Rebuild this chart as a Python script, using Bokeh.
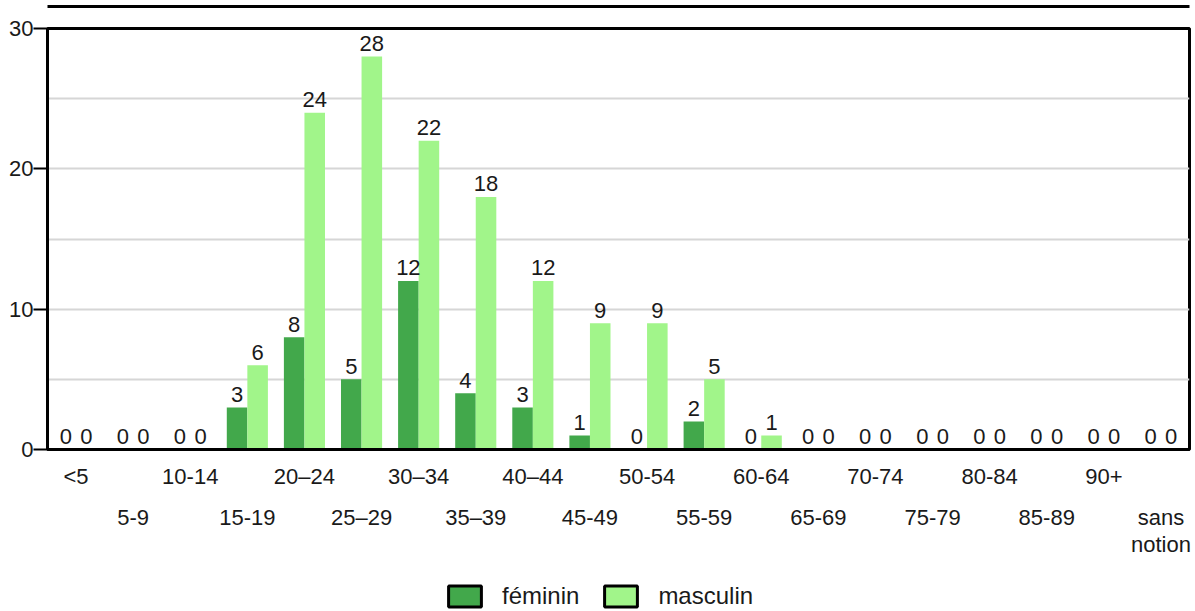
from bokeh.plotting import figure
from bokeh.layouts import column
from bokeh.models import (ColumnDataSource, FactorRange, Range1d, CategoricalAxis,
                          FixedTicker, Legend, LegendItem)
from bokeh.transform import dodge
from bokeh.core.properties import value
from bokeh.embed import file_html
from bokeh.resources import INLINE

categories = ["<5", "5-9", "10-14", "15-19", "20–24", "25–29", "30–34", "35–39", "40–44",
              "45-49", "50-54", "55-59", "60-64", "65-69", "70-74", "75-79", "80-84",
              "85-89", "90+", "sans notion"]
feminin = [0, 0, 0, 3, 8, 5, 12, 4, 3, 1, 0, 2, 0, 0, 0, 0, 0, 0, 0, 0]
masculin = [0, 0, 0, 6, 24, 28, 22, 18, 12, 9, 9, 5, 1, 0, 0, 0, 0, 0, 0, 0]
y_ticks = [0, 10, 20, 30]
grid_ticks = [5, 10, 15, 20, 25]
series_names = ["féminin", "masculin"]

FONT = "Liberation Sans"
TXT = "#1a1a1a"
FEM = "#42a84b"
MAS = "#a1f58a"

src = ColumnDataSource(dict(
    cat=categories, fem=feminin, mas=masculin,
    fem_txt=[str(v) for v in feminin], mas_txt=[str(v) for v in masculin],
))

p = figure(x_range=FactorRange(factors=categories, range_padding=0),
           y_range=Range1d(0, 30), width=1194, height=566,
           output_backend="svg", toolbar_location=None,
           min_border_left=47, min_border_right=5, min_border_top=28, min_border_bottom=117)

p.vbar(x=dodge("cat", -0.18, range=p.x_range), top="fem", width=0.36, source=src,
       fill_color=FEM, line_color=None)
p.vbar(x=dodge("cat", 0.18, range=p.x_range), top="mas", width=0.36, source=src,
       fill_color=MAS, line_color=None)

for col, txt, off in (("fem", "fem_txt", -0.18), ("mas", "mas_txt", 0.18)):
    p.text(x=dodge("cat", off, range=p.x_range), y=dodge(col, 0.4), text=txt, source=src,
           text_align="center", text_baseline="bottom",
           text_font=value(FONT), text_font_size="22px", text_color=TXT)

# y axis
ya = p.yaxis[0]
ya.ticker = FixedTicker(ticks=y_ticks)
ya.axis_line_width = 3
ya.axis_line_color = "black"
ya.major_tick_out = 14
ya.major_tick_in = 0
ya.major_tick_line_width = 2
ya.major_tick_line_color = "black"
ya.minor_tick_line_color = None
ya.major_label_standoff = 0
ya.major_label_text_font = FONT
ya.major_label_text_font_size = "22px"
ya.major_label_text_color = TXT

p.ygrid.ticker = FixedTicker(ticks=grid_ticks)
p.ygrid.grid_line_color = "#d6d6d6"
p.ygrid.grid_line_width = 2
p.xgrid.grid_line_color = None

# x axis labels in staggered rows (blank factors keep positions aligned)
def blank(i):
    return " " * (i + 1)

row1 = [c if i % 2 == 0 else blank(i) for i, c in enumerate(categories)]
row2 = [(c.split(" ")[0] if i % 2 == 1 else blank(i)) for i, c in enumerate(categories)]
row3 = [(" ".join(c.split(" ")[1:]) if (i % 2 == 1 and " " in c) else blank(i))
        for i, c in enumerate(categories)]
p.extra_x_ranges = {"row1": FactorRange(factors=row1, range_padding=0),
                    "row2": FactorRange(factors=row2, range_padding=0),
                    "row3": FactorRange(factors=row3, range_padding=0),
                    "blank": FactorRange(factors=[" "], range_padding=0)}
p.xaxis.visible = False

common = dict(major_tick_line_color=None, minor_tick_line_color=None,
              major_label_text_font=FONT, major_label_text_font_size="22px",
              major_label_text_color=TXT)
xa1 = CategoricalAxis(x_range_name="row1", axis_line_width=3, axis_line_color="black",
                      major_label_standoff=8, **common)
xa2 = CategoricalAxis(x_range_name="row2", axis_line_color=None,
                      major_label_standoff=7, **common)
xa3 = CategoricalAxis(x_range_name="row3", axis_line_color=None,
                      major_label_standoff=-7, **common)
p.add_layout(xa1, "below")
p.add_layout(xa2, "below")
p.add_layout(xa3, "below")

p.outline_line_color = "black"
p.outline_line_width = 3
p.outline_line_alpha = 1

# top rule above the frame (spacer axis + axis line)
spacer = CategoricalAxis(x_range_name="blank", axis_line_color=None,
                         major_tick_out=18, major_tick_in=0, major_tick_line_color=None,
                         minor_tick_line_color=None, major_label_standoff=0,
                         major_label_text_font_size="1px")
rule = CategoricalAxis(x_range_name="blank", axis_line_color="black", axis_line_width=3,
                       major_tick_out=0, major_tick_in=0, major_tick_line_color=None,
                       minor_tick_line_color=None, major_label_standoff=0,
                       major_label_text_font_size="1px")
p.add_layout(spacer, "above")
p.add_layout(rule, "above")

# legend strip (separate figure below the chart; its proxy bars are not painted)
leg = figure(x_range=FactorRange(factors=categories), y_range=Range1d(-1000, -999),
             width=1194, height=44, output_backend="svg", toolbar_location=None,
             min_border=0)
leg.axis.visible = False
leg.grid.visible = False
leg.outline_line_color = None
lf = leg.vbar(x="cat", top="fem", width=0.36, source=src, fill_color=FEM,
              line_color="black", line_width=3)
lm = leg.vbar(x="cat", top="mas", width=0.36, source=src, fill_color=MAS,
              line_color="black", line_width=3)
lf.visible = False
lm.visible = False
legend = Legend(items=[LegendItem(label=series_names[0], renderers=[lf]),
                       LegendItem(label=series_names[1], renderers=[lm])],
                orientation="horizontal", location=(397, 0),
                glyph_width=41, glyph_height=26, label_standoff=17, spacing=21,
                padding=0, margin=0, border_line_color=None, background_fill_alpha=0,
                inactive_fill_alpha=0,
                label_text_font=FONT, label_text_font_size="24px", label_text_color=TXT)
leg.add_layout(legend, "center")

open("out.html", "w").write(file_html(column(p, leg, spacing=0), INLINE))
